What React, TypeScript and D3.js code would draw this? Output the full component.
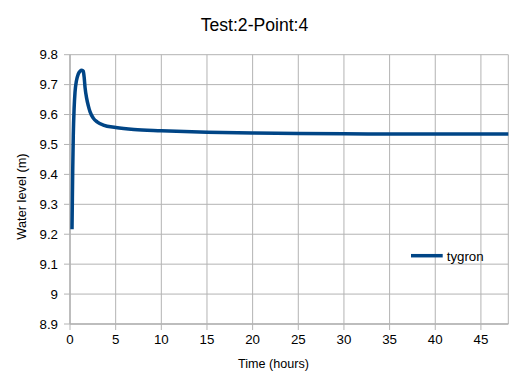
import React from "react";
import * as d3 from "d3";

const timeHours = [0.22, 0.26, 0.3, 0.36, 0.45, 0.55, 0.7, 0.9, 1.1, 1.3, 1.45, 1.55, 1.65, 1.82, 2.0, 2.2, 2.55, 3.0, 3.65, 5, 7, 10, 15, 20, 25, 30, 35, 40, 48];
const waterLevel = [9.217, 9.32, 9.42, 9.53, 9.62, 9.675, 9.712, 9.735, 9.745, 9.748, 9.745, 9.725, 9.69, 9.655, 9.63, 9.609, 9.588, 9.575, 9.565, 9.557, 9.55, 9.546, 9.541, 9.538, 9.537, 9.536, 9.535, 9.535, 9.535];
const xTicks = [0, 5, 10, 15, 20, 25, 30, 35, 40, 45];
const yTicks = [8.9, 9.0, 9.1, 9.2, 9.3, 9.4, 9.5, 9.6, 9.7, 9.8];
const seriesName = "tygron";
const title = "Test:2-Point:4";

export default function App() {
  const W = 514, H = 380;
  const left = 70, right = 508.3, top = 54.7, bottom = 324;
  const x = d3.scaleLinear().domain([0, 48]).range([left, right]);
  const y = d3.scaleLinear().domain([8.9, 9.8]).range([bottom, top]);
  const pts = timeHours.map((t, i) => [t, waterLevel[i]] as [number, number]);
  const line = d3.line<[number, number]>().x(d => x(d[0])).y(d => y(d[1])).curve(d3.curveMonotoneX);
  const font = "'Liberation Sans', Arial, sans-serif";
  const grid = "#b3b3b3";
  const fmt = (v: number) => (Math.abs(v - 9) < 1e-9 ? "9" : v.toFixed(1));
  return (
    <svg width={W} height={H} style={{ position: "absolute", left: 0, top: 0 }} fontFamily={font}>
      <rect width={W} height={H} fill="#fff" />
      <text x={254.5} y={31} textAnchor="middle" fontSize={17.6} fill="#000">{title}</text>
      {yTicks.map(v => (
        <g key={"y" + v}>
          <line x1={left - 6} x2={right} y1={y(v)} y2={y(v)} stroke={grid} strokeWidth={1} />
          <text x={58} y={y(v) + 4.7} textAnchor="end" fontSize={13.3} fill="#000">{fmt(v)}</text>
        </g>
      ))}
      {xTicks.map(v => (
        <g key={"x" + v}>
          <line x1={x(v)} x2={x(v)} y1={top} y2={bottom + 6} stroke={grid} strokeWidth={1} />
          <text x={x(v)} y={343.5} textAnchor="middle" fontSize={13.3} fill="#000">{v}</text>
        </g>
      ))}
      <line x1={right} x2={right} y1={top} y2={bottom} stroke={grid} strokeWidth={1} />
      <line x1={left} x2={left} y1={top} y2={bottom} stroke={grid} strokeWidth={1.5} />
      <line x1={left} x2={right} y1={bottom} y2={bottom} stroke={grid} strokeWidth={1.5} />
      <path d={line(pts) || ""} fill="none" stroke="#004586" strokeWidth={3.5} strokeLinejoin="round" />
      <text x={273.5} y={368} textAnchor="middle" fontSize={12.6} fill="#000">Time (hours)</text>
      <text transform={`translate(26,196.5) rotate(-90)`} textAnchor="middle" fontSize={12.8} fill="#000">Water level (m)</text>
      <line x1={411} x2={442.7} y1={255.7} y2={255.7} stroke="#004586" strokeWidth={3.5} />
      <text x={446.7} y={260.5} fontSize={13.3} fill="#000">{seriesName}</text>
    </svg>
  );
}
